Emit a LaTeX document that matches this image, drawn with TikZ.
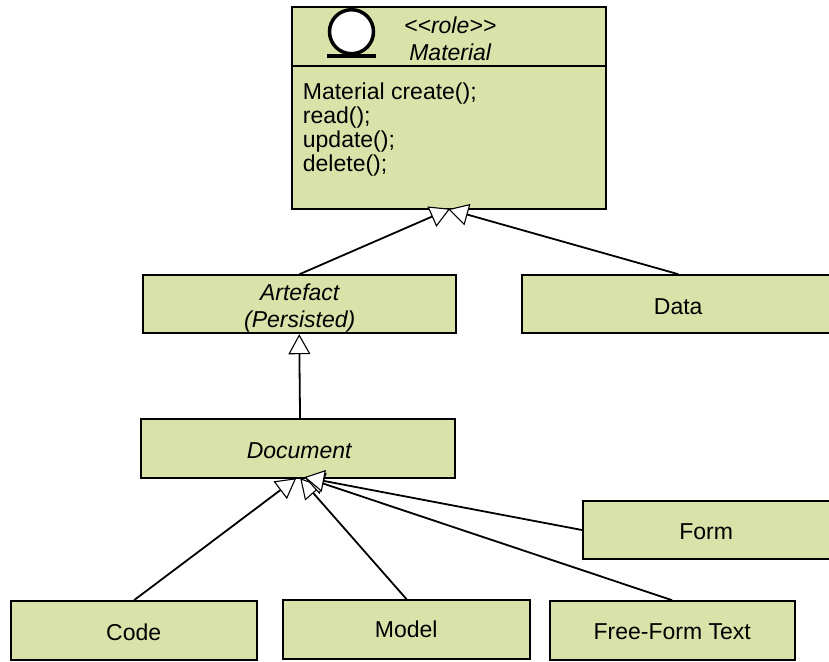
\documentclass[tikz,border=0pt]{standalone}
\usepackage{fontspec}
\setmainfont{Liberation Sans}
\usetikzlibrary{arrows.meta}
\definecolor{boxgreen}{HTML}{D9E2A9}
\tikzset{
  classbox/.style={draw=black,fill=boxgreen,line width=1.7pt,anchor=north west,inner sep=0pt,align=center},
  gen/.style={line width=1.8pt,-{Triangle[open,fill=white,length=20pt,width=22pt,line width=1.1pt]}},
  lbl/.style={font=\fontsize{23}{24}\selectfont,align=left,inner sep=0pt},
  ilbl/.style={font=\fontsize{23}{24}\selectfont\itshape,align=center,inner sep=0pt},
}
\newcommand{\cbox}[6]{\node[classbox,minimum width=#4 pt - #2 pt,minimum height=#5 pt - #3 pt] (#1) at (#2,#3) {};}
\begin{document}
\begin{tikzpicture}[x=1pt,y=-1pt]
\useasboundingbox (0.8,0.8) rectangle (829.8,661.8);
\cbox{material}{292}{7}{606}{209}{}
\cbox{artefact}{143}{275}{456}{333}{}
\cbox{data}{522}{275}{829.5}{333}{}
\cbox{document}{141}{419}{455}{478}{}
\cbox{form}{583}{501}{829.5}{559}{}
\cbox{code}{11}{601}{257}{660}{}
\cbox{model}{283}{600}{530}{659}{}
\cbox{freeform}{550}{601}{795}{660}{}
\coordinate (div) at (292,66.5);
\draw[line width=1.7pt] (div) -- (div -| material.east);
% role icon
\node[draw=black,fill=white,circle,line width=3.5pt,minimum size=44pt,inner sep=0pt] (icon) at (352.3,32.5) {};
\draw[line width=3.4pt] ([xshift=-24.5pt,yshift=-0.5pt]icon.south) coordinate (il) -- ([xshift=24.5pt,yshift=-0.5pt]icon.south) coordinate (ir);
% texts
\node[ilbl] (roleT) at (451,26) {<{}<role>{}>};
\node[ilbl] (roleN) at (451,53) {Material};
\node[lbl,anchor=north west] (ops) at (303.5,83) {Material create();\\read();\\update();\\delete();};
\node[ilbl,font=\fontsize{23}{27}\selectfont\itshape] (artT) at (300.5,308.5) {Artefact\\(Persisted)};
\node[lbl] (dataT) at (679,307) {Data};
\node[ilbl] (docT) at (300,451) {Document};
\node[lbl] (formT) at (707,532) {Form};
\node[lbl] (codeT) at (134.5,633) {Code};
\node[lbl] (modelT) at (407,630) {Model};
\node[lbl] (ffT) at (673,632) {Free-Form Text};
% connectors
\coordinate (t1) at (451,209.5);
\coordinate (t2) at (449,210);
\coordinate (t3) at (300,335);
\coordinate (t4) at (297,479);
\coordinate (t5) at (301,479);
\coordinate (t6) at (305,478);
\coordinate (t7) at (305,478);
\draw[gen] (artefact.north) -- (t1);
\draw[gen] ([xshift=2.5pt]data.north) -- (t2);
\draw[gen] ([xshift=2pt]document.north) -- (t3);
\draw[gen] (code.north) -- (t4);
\draw[gen] (model.north) -- (t5);
\draw[gen] ([xshift=-0.5pt]freeform.north) -- (t6);
\draw[gen] (form.west) -- (t7);
\end{tikzpicture}
\end{document}
